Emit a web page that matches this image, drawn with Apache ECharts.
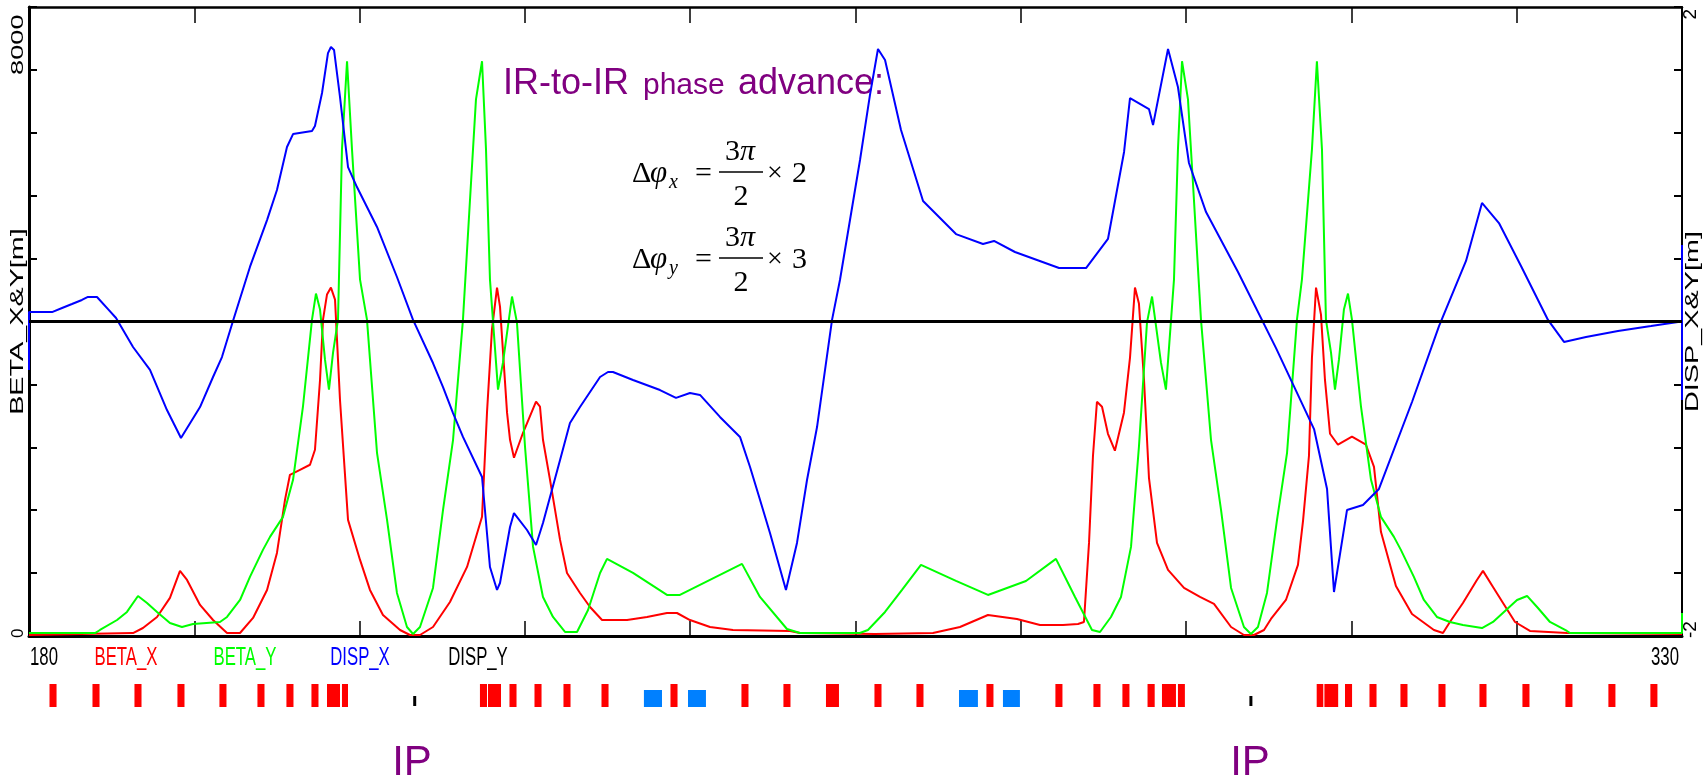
<!DOCTYPE html>
<html><head><meta charset="utf-8">
<script src="https://cdn.jsdelivr.net/npm/echarts@6/dist/echarts.min.js"></script>
<style>html,body{margin:0;padding:0;background:#fff}#c{width:1703px;height:783px}</style>
</head><body><div id="c"></div>
<script>
// ---------- DATA ----------
const xTickLabels = [180, 330];
const yLeftTickLabels = [0, 8000];
const yRightTickLabels = [-2, 2];
const seriesNames = ['BETA_X', 'BETA_Y', 'DISP_X', 'DISP_Y'];

const betaXS = [180,189.44,190.34,191.62,192.79,193.70,194.34,195.52,196.70,197.97,199.15,200.33,201.60,202.50,203.23,203.68,204.59,205.50,205.95,206.41,206.68,207.04,207.40,207.77,208.22,208.95,210.04,210.94,212.12,213.67,214.57,215.48,216.66,218.20,219.75,221.11,221.56,222.01,222.47,222.74,223.38,223.65,224.01,224.83,226.01,226.37,226.64,227.28,228.19,228.82,230.00,230.91,232.00,234.27,236.08,237.89,238.80,239.98,241.80,243.88,249.06,249.96,256.77,262.03,264.48,267.02,269.65,271.74,273.83,275.19,275.73,276.19,276.55,276.91,277.37,277.91,278.54,279.36,279.91,280.36,280.72,281.18,281.63,282.36,283.36,284.81,286.26,287.53,289.08,290.25,291.16,292.07,292.70,294.06,295.15,295.61,296.15,296.42,296.79,297.24,297.60,298.06,298.78,300.05,301.32,302.05,302.68,304.04,305.50,307.49,308.31,308.94,310.12,311.39,311.94,312.85,313.76,314.85,316.20,319.56,330];
const betaX  = [14,42,113,269,538,920,792,439,226,42,42,255,651,1174,1924,2278,2349,2420,2632,3622,4471,4825,4924,4754,3339,1641,1075,651,297,85,14,14,127,481,976,1684,3156,4330,4924,4655,3156,2773,2519,2872,3311,3240,2773,2207,1358,891,608,410,226,226,269,325,325,226,127,85,71,42,28,42,127,297,241,156,156,170,198,1316,2547,3311,3240,2858,2618,3156,3934,4924,4698,3622,2236,1316,934,679,552,453,127,14,14,85,241,509,1005,1627,2547,3934,4924,4542,3622,2858,2703,2816,2703,2391,1472,708,311,85,42,198,467,792,920,693,467,198,71,42,28];

const betaYS = [180,186.0,186.44,187.99,188.89,189.89,190.71,191.62,192.79,193.88,194.88,197.33,197.97,199.15,200.05,201.23,201.87,203.05,203.96,204.86,205.68,206.04,206.41,206.86,207.22,207.59,208.04,208.40,208.86,209.31,210.04,210.67,211.58,212.49,213.39,214.30,214.85,215.48,216.66,217.57,218.48,219.38,220.02,220.56,221.11,221.47,221.83,222.56,223.01,223.83,224.28,225.01,225.74,226.64,227.55,228.64,229.73,230.73,231.82,232.45,234.81,237.89,239.07,244.70,246.33,248.78,249.96,255.40,256.13,257.68,259.22,260.94,264.12,267.02,270.47,273.19,274.92,276.46,277.19,278.18,279.09,280.00,280.72,281.45,281.91,282.72,283.17,283.90,284.26,284.63,285.17,285.71,286.35,287.26,288.17,289.08,290.25,290.88,291.52,292.34,293.25,294.16,295.06,295.51,296.42,296.87,297.33,297.69,298.15,298.51,298.87,299.32,299.69,300.05,300.87,301.78,302.68,303.86,304.49,305.67,306.58,307.76,308.94,310.12,311.85,312.85,315.03,315.94,316.93,318.02,319.56,319.84,330,330];
const betaY  = [42,42,85,226,340,566,467,340,184,127,170,198,269,509,835,1217,1401,1684,2207,3240,4471,4839,4613,3905,3481,4004,4471,6877,8122,6877,5037,4471,2589,1641,608,127,28,127,679,1783,2773,4471,6169,7584,8122,6877,5037,3481,3863,4797,4429,2674,1259,552,269,57,57,368,891,1090,891,580,580,1019,552,99,42,42,85,340,651,1005,778,580,778,1090,552,85,57,269,552,1259,2674,4429,4797,3863,3481,5037,6877,8122,7584,6169,4471,2773,1783,679,127,28,127,608,1641,2589,4471,5037,6877,8122,6877,4471,4004,3481,3905,4613,4839,4471,3240,2207,1684,1401,1217,835,509,269,198,156,113,198,509,566,396,198,71,42,42,325];

const dispXS = [180,180,182.09,183.0,183.9,184.8,185.35,186.17,187.17,187.9,189.44,190.98,192.52,193.43,193.79,195.52,196.70,197.51,198.51,200.05,201.60,202.50,203.41,203.96,205.68,205.95,206.59,207.13,207.40,207.68,208.22,208.95,209.76,211.58,213.39,214.85,216.66,217.57,218.48,219.38,221.11,221.83,222.47,222.74,223.65,224.01,225.19,226.01,226.64,228.19,229.09,230.00,231.82,232.54,232.99,234.81,237.26,238.71,239.98,240.89,242.70,244.52,245.43,246.34,247.24,248.69,249.69,250.60,251.51,252.87,253.59,255.41,256.31,257.04,257.68,259.13,261.13,264.12,266.57,267.57,269.47,273.47,275.92,277.91,279.37,279.91,281.63,282.00,283.36,284.26,285.26,286.81,289.71,293.16,296.61,297.79,298.42,299.60,301.05,302.50,305.50,307.95,310.40,311.85,313.39,315.39,317.84,319.29,321.29,324.19,327.19,329.64,330,330,330];
const dispX  = [-0.308,0.060,0.060,0.086,0.111,0.137,0.156,0.156,0.079,0.022,-0.162,-0.308,-0.563,-0.690,-0.741,-0.544,-0.353,-0.226,0.003,0.347,0.645,0.836,1.110,1.192,1.211,1.243,1.453,1.707,1.746,1.727,1.428,0.982,0.855,0.601,0.283,0.010,-0.264,-0.417,-0.582,-0.734,-0.989,-1.561,-1.707,-1.663,-1.307,-1.218,-1.326,-1.421,-1.281,-0.881,-0.645,-0.544,-0.353,-0.321,-0.321,-0.372,-0.436,-0.486,-0.455,-0.467,-0.607,-0.734,-0.925,-1.135,-1.345,-1.707,-1.408,-1.008,-0.671,0.010,0.264,1.027,1.440,1.733,1.663,1.218,0.766,0.556,0.493,0.512,0.442,0.340,0.340,0.525,1.078,1.421,1.351,1.249,1.733,1.491,1.008,0.696,0.315,-0.169,-0.684,-1.065,-1.720,-1.199,-1.167,-1.065,-0.512,-0.029,0.385,0.754,0.626,0.353,0.010,-0.130,-0.099,-0.060,-0.029,-0.003,-0.003,0.486,-0.499];

const dispYS = [180, 330];
const dispY  = [0, 0];

// lattice elements: start, end (m) and kind (0 = red magnet, 1 = blue element, 2 = IP marker)
const elemStart = [181.86,185.76,189.57,193.47,197.28,200.73,203.36,205.63,207.04,208.40,214.95,220.92,221.65,223.60,225.87,228.50,231.95,235.80,238.21,239.80,244.65,248.46,252.32,256.72,260.53,264.39,266.88,268.38,273.14,276.59,279.22,281.50,282.81,284.26,290.83,296.85,297.55,299.42,301.64,304.45,307.90,311.62,315.52,319.42,323.32,327.13];
const elemEnd   = [182.50,186.40,190.21,194.11,197.92,201.37,204.00,206.27,208.22,208.95,215.05,221.56,222.83,224.24,226.51,229.14,232.59,237.44,238.85,241.43,245.29,249.10,253.50,257.36,261.17,266.11,267.52,269.92,273.78,277.23,279.86,282.15,284.08,284.89,290.93,297.45,298.80,300.06,302.28,305.09,308.54,312.26,316.16,320.06,323.96,327.77];
const elemKind  = [0,0,0,0,0,0,0,0,0,0,2,0,0,0,0,0,0,1,0,1,0,0,0,0,0,1,0,1,0,0,0,0,0,0,2,0,0,0,0,0,0,0,0,0,0,0];

// ---------- CHART ----------
const zip = (a, b) => a.map((v, i) => [v, b[i]]);
const chart = echarts.init(document.getElementById('c'), null, {renderer: 'canvas'});
const BETA_MAX = 80000 / 9, BETA_INT = 8000 / 9;
const sans = "'Liberation Sans', Arial, sans-serif";
const serif = "'Liberation Serif', 'Times New Roman', serif";
const purple = '#800080';
const seriesColors = ['#ff0000', '#00ff00', '#0000ff', '#000000'];
const elemColors = ['#ff0000', '#0080ff', '#000000'];
const elemData = elemStart.map((s, i) => [s, elemEnd[i], elemKind[i]]);

const option = {
  backgroundColor: '#ffffff',
  animation: false,
  grid: [
    {left: 29, right: 21, top: 7, bottom: 147, containLabel: false, outerBoundsMode: 'none'},
    {left: 29, right: 21, top: 684, height: 23, containLabel: false, outerBoundsMode: 'none'}
  ],
  xAxis: [
    {type: 'value', gridIndex: 0, min: 180, max: 330, interval: 15, position: 'bottom',
     axisLine: {show: true, onZero: false, lineStyle: {color: '#000', width: 3}},
     axisTick: {show: true, inside: true, length: 15, lineStyle: {color: '#000', width: 1.5}},
     splitLine: {show: false}, axisLabel: {show: false}},
    {type: 'value', gridIndex: 0, min: 180, max: 330, interval: 15, position: 'top',
     axisLine: {show: true, onZero: false, lineStyle: {color: '#000', width: 2.5}},
     axisTick: {show: true, inside: true, length: 16, lineStyle: {color: '#000', width: 1.5}},
     axisLabel: {show: false}, splitLine: {show: false}},
    {type: 'value', gridIndex: 1, min: 180, max: 330, show: false}
  ],
  yAxis: [
    {type: 'value', gridIndex: 0, min: 0, max: BETA_MAX, interval: BETA_INT, position: 'left',
     axisLine: {show: true, onZero: false, lineStyle: {color: '#000', width: 3}},
     axisTick: {show: true, inside: true, length: 8, lineStyle: {color: '#000', width: 2}},
     splitLine: {show: false}, axisLabel: {show: false}},
    {type: 'value', gridIndex: 0, min: -2, max: 2, interval: 0.4, position: 'right',
     axisLine: {show: true, onZero: false, lineStyle: {color: '#000', width: 2}},
     axisTick: {show: true, inside: true, length: 8, lineStyle: {color: '#000', width: 2}},
     splitLine: {show: false}, axisLabel: {show: false}},
    {type: 'value', gridIndex: 1, min: 0, max: 1, show: false}
  ],
  series: [
    {name: seriesNames[0], type: 'line', xAxisIndex: 0, yAxisIndex: 0, data: zip(betaXS, betaX), showSymbol: false,
     lineStyle: {color: seriesColors[0], width: 2}, itemStyle: {color: seriesColors[0]}, z: 3},
    {name: seriesNames[1], type: 'line', xAxisIndex: 0, yAxisIndex: 0, data: zip(betaYS, betaY), showSymbol: false,
     lineStyle: {color: seriesColors[1], width: 2}, itemStyle: {color: seriesColors[1]}, z: 4},
    {name: seriesNames[2], type: 'line', xAxisIndex: 0, yAxisIndex: 1, data: zip(dispXS, dispX), showSymbol: false,
     lineStyle: {color: seriesColors[2], width: 2}, itemStyle: {color: seriesColors[2]}, z: 5},
    {name: seriesNames[3], type: 'line', xAxisIndex: 0, yAxisIndex: 1, data: zip(dispYS, dispY), showSymbol: false,
     lineStyle: {color: seriesColors[3], width: 3}, itemStyle: {color: seriesColors[3]}, z: 6},
    {name: 'elements', type: 'custom', xAxisIndex: 2, yAxisIndex: 2, data: elemData, encode: {x: [0, 1]},
     renderItem: function (params, api) {
       const s0 = api.value(0), s1 = api.value(1), k = api.value(2);
       const top = k === 0 ? 1 : (k === 1 ? 0.74 : 0.478);
       const bot = k === 2 ? 0.043 : 0;
       const p0 = api.coord([s0, top]), p1 = api.coord([s1, bot]);
       let x = p0[0], w = Math.max(1, p1[0] - p0[0]);
       if (k === 2) { const cx = (p0[0] + p1[0]) / 2; x = cx - 1.5; w = 3; }
       return {type: 'rect', shape: {x: x, y: p0[1], width: w, height: p1[1] - p0[1]}, style: {fill: elemColors[k]}};
     }}
  ]
};
chart.setOption(option);

// ---------- TEXT (titles, labels, formulas) ----------
const px = v => chart.convertToPixel({xAxisIndex: 0}, v);
const pyL = v => chart.convertToPixel({yAxisIndex: 0}, v);
const pyR = v => chart.convertToPixel({yAxisIndex: 1}, v);
const T = (x, y, text, style, extra) => Object.assign({type: 'text', x: x, y: y, silent: true,
  style: Object.assign({text: text, fill: '#000', align: 'left', verticalAlign: 'middle'}, style)}, extra || {});
const ROT = Math.PI / 2;

function formulaRow(cy, sub, mult) {
  return [
    T(632, cy, 'Δ', {font: '30px ' + serif}),
    T(650, cy, 'φ', {font: 'italic 31px ' + serif}),
    T(669, cy + 9, sub, {font: 'italic 20px ' + serif}),
    T(695, cy, '=', {font: '30px ' + serif}),
    T(740, cy - 22, '3', {font: '30px ' + serif, align: 'right'}),
    T(740, cy - 22, 'π', {font: 'italic 30px ' + serif}),
    {type: 'line', silent: true, shape: {x1: 719, y1: cy - 2, x2: 763, y2: cy - 2}, style: {stroke: '#000', lineWidth: 1.5}},
    T(741, cy + 23, '2', {font: '30px ' + serif, align: 'center'}),
    T(767, cy, '×', {font: '28px ' + serif}),
    T(792, cy, mult, {font: '30px ' + serif})
  ];
}

const graphics = [
  // title
  T(503, 84, 'IR-to-IR', {font: '36px ' + sans, fill: purple}),
  T(643, 86, 'phase', {font: '30px ' + sans, fill: purple}),
  T(738, 84, 'advance:', {font: '36px ' + sans, fill: purple}),
  ...formulaRow(174, 'x', '2'),
  ...formulaRow(260, 'y', '3'),
  // x tick labels (min / max)
  T(px(xTickLabels[0]) + 1, 658, String(xTickLabels[0]), {font: '25px ' + sans}, {scaleX: 0.67}),
  T(px(xTickLabels[1]) - 3, 658, String(xTickLabels[1]), {font: '25px ' + sans, align: 'right'}, {scaleX: 0.67}),
  // series key below the axis
  T(126, 658, seriesNames[0], {font: '25px ' + sans, fill: seriesColors[0], align: 'center'}, {scaleX: 0.67}),
  T(245, 658, seriesNames[1], {font: '25px ' + sans, fill: seriesColors[1], align: 'center'}, {scaleX: 0.67}),
  T(360, 658, seriesNames[2], {font: '25px ' + sans, fill: seriesColors[2], align: 'center'}, {scaleX: 0.67}),
  T(478, 658, seriesNames[3], {font: '25px ' + sans, fill: seriesColors[3], align: 'center'}, {scaleX: 0.67}),
  // y axis names (rotated)
  T(18, (pyL(0) + pyL(BETA_MAX)) / 2, 'BETA_X&Y[m]', {font: '18px ' + sans, align: 'center'}, {rotation: ROT, scaleX: 1.6}),
  T(1693, (pyR(-2) + pyR(2)) / 2, 'DISP_X&Y[m]', {font: '18px ' + sans, align: 'center'}, {rotation: ROT, scaleX: 1.6}),
  // y tick labels (rotated)
  T(18, pyL(yLeftTickLabels[0]) + 2, String(yLeftTickLabels[0]), {font: '17px ' + sans}, {rotation: ROT}),
  T(18, pyL(yLeftTickLabels[1]) + 5, String(yLeftTickLabels[1]), {font: '17px ' + sans}, {rotation: ROT, scaleX: 1.6}),
  T(1691, pyR(yRightTickLabels[0]) + 2, String(yRightTickLabels[0]), {font: '19px ' + sans}, {rotation: ROT}),
  T(1691, pyR(yRightTickLabels[1]) + 2, String(yRightTickLabels[1]), {font: '19px ' + sans, align: 'right'}, {rotation: ROT}),
  // IP labels
  T(412, 763, 'IP', {font: '42px ' + sans, fill: purple, align: 'center'}),
  T(1250, 763, 'IP', {font: '42px ' + sans, fill: purple, align: 'center'})
];
chart.setOption({graphic: graphics});
</script>
</body></html>
